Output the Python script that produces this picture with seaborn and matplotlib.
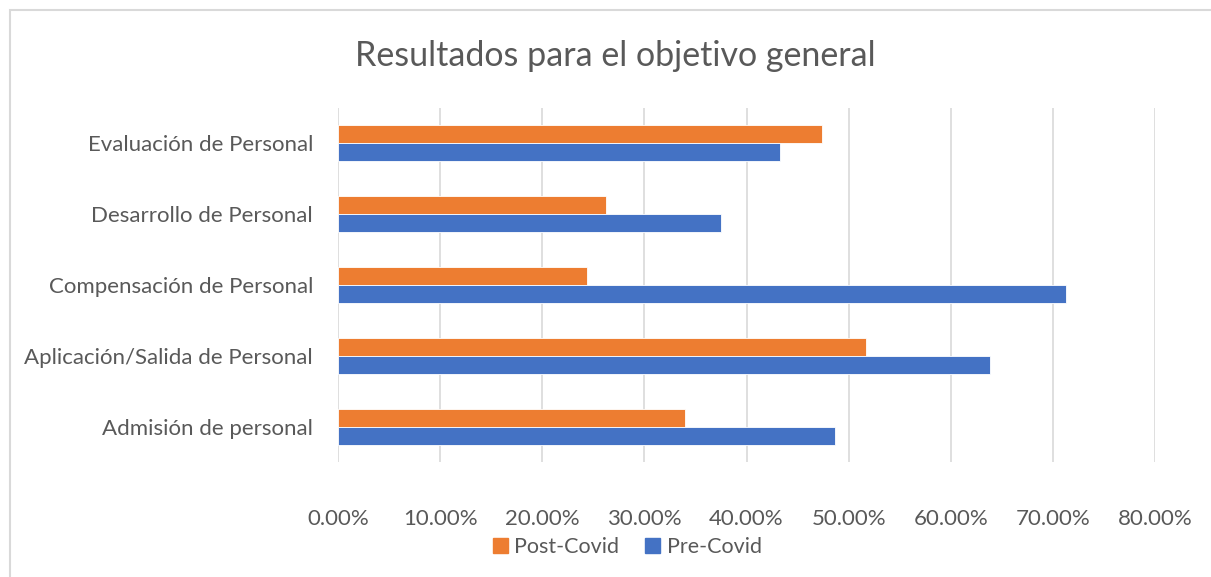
import pandas as pd
import matplotlib
matplotlib.use("Agg")
import matplotlib.pyplot as plt
import matplotlib.patches as mpatches
from matplotlib.ticker import PercentFormatter, MultipleLocator
import seaborn as sns

# data (fractions)
categorias = ["Evaluación de Personal", "Desarrollo de Personal",
              "Compensación de Personal", "Aplicación/Salida de Personal",
              "Admisión de personal"]
post_covid = [0.474, 0.262, 0.244, 0.517, 0.340]
pre_covid = [0.433, 0.375, 0.713, 0.638, 0.487]
series = ["Post-Covid", "Pre-Covid"]
colores = ["#ED7D31", "#4472C4"]

df = pd.DataFrame({
    "categoria": categorias * 2,
    "valor": post_covid + pre_covid,
    "periodo": [series[0]] * len(categorias) + [series[1]] * len(categorias),
})

sns.set_theme(style="white")
plt.rcParams["font.family"] = ["Lato", "DejaVu Sans"]
gris = "#595959"

fig = plt.figure(figsize=(12.11, 5.77), dpi=100)
ax = fig.add_axes([338 / 1211, 1 - 462 / 577, (1155 - 338) / 1211, (462 - 108) / 577])

sns.barplot(data=df, x="valor", y="categoria", hue="periodo", order=categorias,
            hue_order=series, palette=colores, orient="h", width=0.51,
            saturation=1, edgecolor="white", linewidth=0.6, ax=ax, legend=False)

ax.set_xlim(0, 0.8)
ax.xaxis.set_major_locator(MultipleLocator(0.1))
ax.xaxis.set_major_formatter(PercentFormatter(xmax=1, decimals=2))
ax.grid(axis="x", color="#D9D9D9", linewidth=1.2)
ax.set_axisbelow(True)
for s in ax.spines.values():
    s.set_visible(False)
ax.set_xlabel("")
ax.set_ylabel("")
ax.tick_params(axis="x", length=0, pad=34, labelsize=16, labelcolor=gris)
ax.tick_params(axis="y", length=0, pad=18, labelsize=16, labelcolor=gris)

fig.text(0.508, 1 - 56 / 577, "Resultados para el objetivo general",
         ha="center", va="center", fontsize=24.5, color=gris)

handles = [mpatches.Patch(color=c, label=l) for c, l in zip(colores, series)]
fig.legend(handles=handles, loc="center", bbox_to_anchor=(0.518, 1 - 547 / 577),
           ncol=2, frameon=False, fontsize=15.5, labelcolor=gris,
           handlelength=0.7, handleheight=0.7, handletextpad=0.3, columnspacing=1.2)

# chart border
fig.add_artist(mpatches.Rectangle((10 / 1211, -0.01), 1.0, 1 - 10 / 577 + 0.01,
                                  transform=fig.transFigure, fill=False,
                                  edgecolor="#D9D9D9", linewidth=1.5))

fig.savefig("out.png", dpi=100)
